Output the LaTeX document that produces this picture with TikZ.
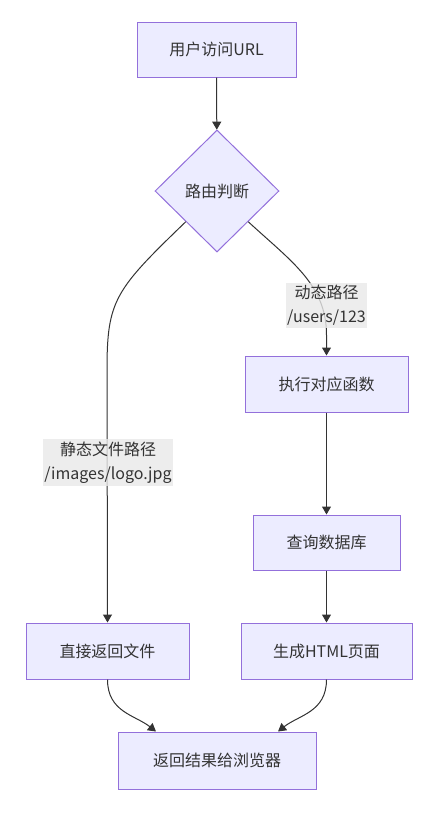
\documentclass[tikz,border=0pt]{standalone}
\usepackage{fontspec}
\setmainfont{Noto Sans CJK SC}
\usetikzlibrary{shapes.geometric,arrows.meta}

\definecolor{boxfill}{HTML}{ECECFF}
\definecolor{boxline}{HTML}{9370DB}
\definecolor{ink}{HTML}{333333}
\definecolor{lblfill}{HTML}{E8E8E8}

\tikzset{
  box/.style={draw=boxline, fill=boxfill, line width=1pt, text=ink, inner sep=0pt,
              font=\fontsize{16}{24}\selectfont},
  edgelbl/.style={fill=lblfill, fill opacity=0.8, text opacity=1, text=ink, align=center,
              inner xsep=1pt, inner ysep=2.5pt, font=\fontsize{16}{24}\selectfont},
  flow/.style={draw=ink, line width=1pt, -{Triangle[length=8pt,width=9pt]}}
}

\begin{document}
\begin{tikzpicture}[x=1pt, y=-1pt]
\useasboundingbox (0,0) rectangle (440,817);

% nodes
\node[box, minimum width=159pt, minimum height=55pt] (visit)  at (216.5,49.5) {用户访问URL};
\node[box, shape=diamond, minimum width=124pt, minimum height=122pt] (route) at (217,191) {路由判断};

\node[box, minimum width=163pt, minimum height=56pt] (exec)   at (326.5,384)   {执行对应函数};
\node[box, minimum width=147pt, minimum height=55pt] (query)  at (326.5,542.5) {查询数据库};
\node[box, minimum width=171pt, minimum height=56pt] (gen)    at (326.5,651)   {生成HTML页面};

\node[box, minimum width=163pt, minimum height=56pt] (direct) at (107.5,651)   {直接返回文件};
\node[box, minimum width=198pt, minimum height=57pt] (result) at (217,760.5)   {返回结果给浏览器};

%------------------------------------------------------
% edges
\draw[flow] (visit) -- (route);
\draw[flow] (route.south west) .. controls (115,290) and (107,300) .. (107,370) -- (direct.north);
\draw[flow] (route.south east) .. controls (292,262) and (326.5,285) .. (326.5,335) -- (exec.north);
\draw[flow] (exec) -- (query);
\draw[flow] (query) -- (gen);
\draw[flow] (direct.south) .. controls (107.5,712) and (135,715) .. ([xshift=-61pt]result.north);
\draw[flow] (gen.south) .. controls (326.5,712) and (299,715) .. ([xshift=61pt]result.north);

% edge labels
\node[edgelbl] (dynlbl) at (326.5,305.5) {动态路径\\/users/123};
\node[edgelbl] (statlbl) at (108,462.5) {静态文件路径\\/images/logo.jpg};

\end{tikzpicture}
\end{document}
